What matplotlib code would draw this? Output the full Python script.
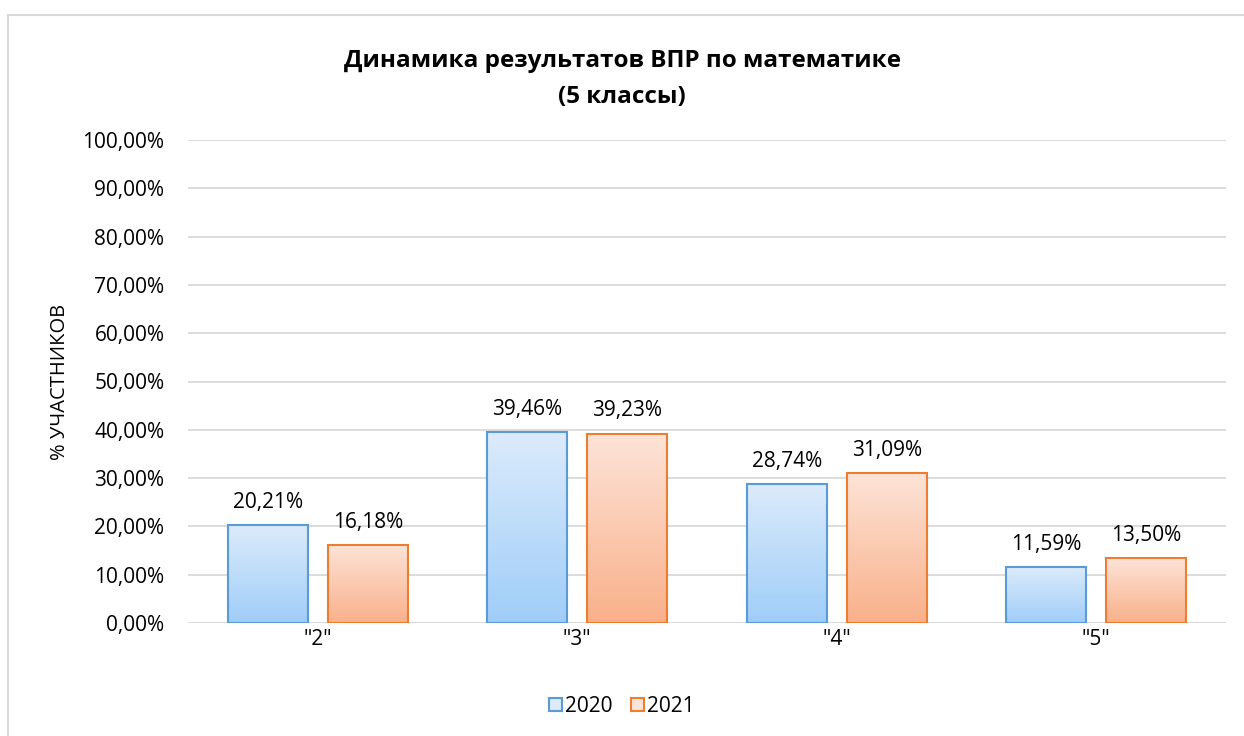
import numpy as np
import matplotlib
matplotlib.use("Agg")
import matplotlib.pyplot as plt
from matplotlib.patches import Rectangle
from matplotlib.colors import LinearSegmentedColormap

plt.rcParams["font.family"] = ["Open Sans", "DejaVu Sans"]

categories = ['"2"', '"3"', '"4"', '"5"']
series_names = ["2020", "2021"]
values_2020 = [20.21, 39.46, 28.74, 11.59]
values_2021 = [16.18, 39.23, 31.09, 13.50]
yticks = np.arange(0, 101, 10)

W, H = 1244, 736
fig = plt.figure(figsize=(W / 100, H / 100), dpi=100)
fig.patch.set_facecolor("white")

# chart border (right/bottom edges run off the picture)
fig.add_artist(Rectangle((8 / W, -0.01), 1.02 - 8 / W, 1 - 15 / H + 0.01,
                         transform=fig.transFigure, fill=False,
                         edgecolor="#d9d9d9", lw=1.5))

ax = fig.add_axes([188 / W, 1 - 623 / H, (1226 - 188) / W, (623 - 140) / H])
ax.set_xlim(-0.5, 3.5)
ax.set_ylim(0, 100)
for sp in ax.spines.values():
    sp.set_visible(False)
ax.set_yticks(yticks)
ax.set_yticklabels([f"{v:.2f}%".replace(".", ",") for v in yticks])
ax.grid(axis="y", color="#d9d9d9", lw=1.3)
ax.set_axisbelow(True)
ax.tick_params(axis="both", length=0, labelsize=15, colors="#000000")
ax.tick_params(axis="y", pad=17)
ax.tick_params(axis="x", pad=4)
ax.set_xticks(range(len(categories)))
ax.set_xticklabels(categories)
ax.axhline(0, color="#d9d9d9", lw=1.3, zorder=1)

ax.set_ylabel("% УЧАСТНИКОВ", fontsize=14.5, labelpad=9)

fig.text(0.5, 1 - 79 / H, "Динамика результатов ВПР по математике\n(5 классы)",
         ha="center", va="center", fontsize=17.5, fontweight="bold",
         linespacing=1.65)

bw = 0.308
gap = 0.077
offsets = [-(bw + gap) / 2, (bw + gap) / 2]
styles = [
    ("#dcebfb", "#9fcdf8", "#5b9bd5"),
    ("#fde4d8", "#f9b08a", "#ed7d31"),
]
grad = np.linspace(0, 1, 256).reshape(-1, 1)
for vals, off, (ctop, cbot, edge) in zip([values_2020, values_2021], offsets, styles):
    cmap = LinearSegmentedColormap.from_list("g", [cbot, ctop])
    for i, v in enumerate(vals):
        x0 = i + off - bw / 2
        rect = Rectangle((x0, 0), bw, v, facecolor="none", edgecolor=edge,
                         lw=1.5, zorder=3)
        ax.add_patch(rect)
        im = ax.imshow(grad, cmap=cmap, origin="lower", aspect="auto",
                       extent=(x0, x0 + bw, 0, v), zorder=2)
        im.set_clip_path(rect)
        ax.text(i + off, v + 2.5, f"{v:.2f}%".replace(".", ","),
                ha="center", va="bottom", fontsize=15)
ax.set_xlim(-0.5, 3.5)
ax.set_ylim(0, 100)

# legend
handles = [Rectangle((0, 0), 1, 1, facecolor=s[0], edgecolor=s[2], lw=1.5)
           for s in styles]
fig.legend(handles, series_names, loc="center", bbox_to_anchor=(0.5, 1 - 706 / H),
           ncol=2, frameon=False, fontsize=15, handlelength=0.6,
           handleheight=0.6, handletextpad=0.15, columnspacing=0.9)

fig.savefig("out.png", dpi=100)
